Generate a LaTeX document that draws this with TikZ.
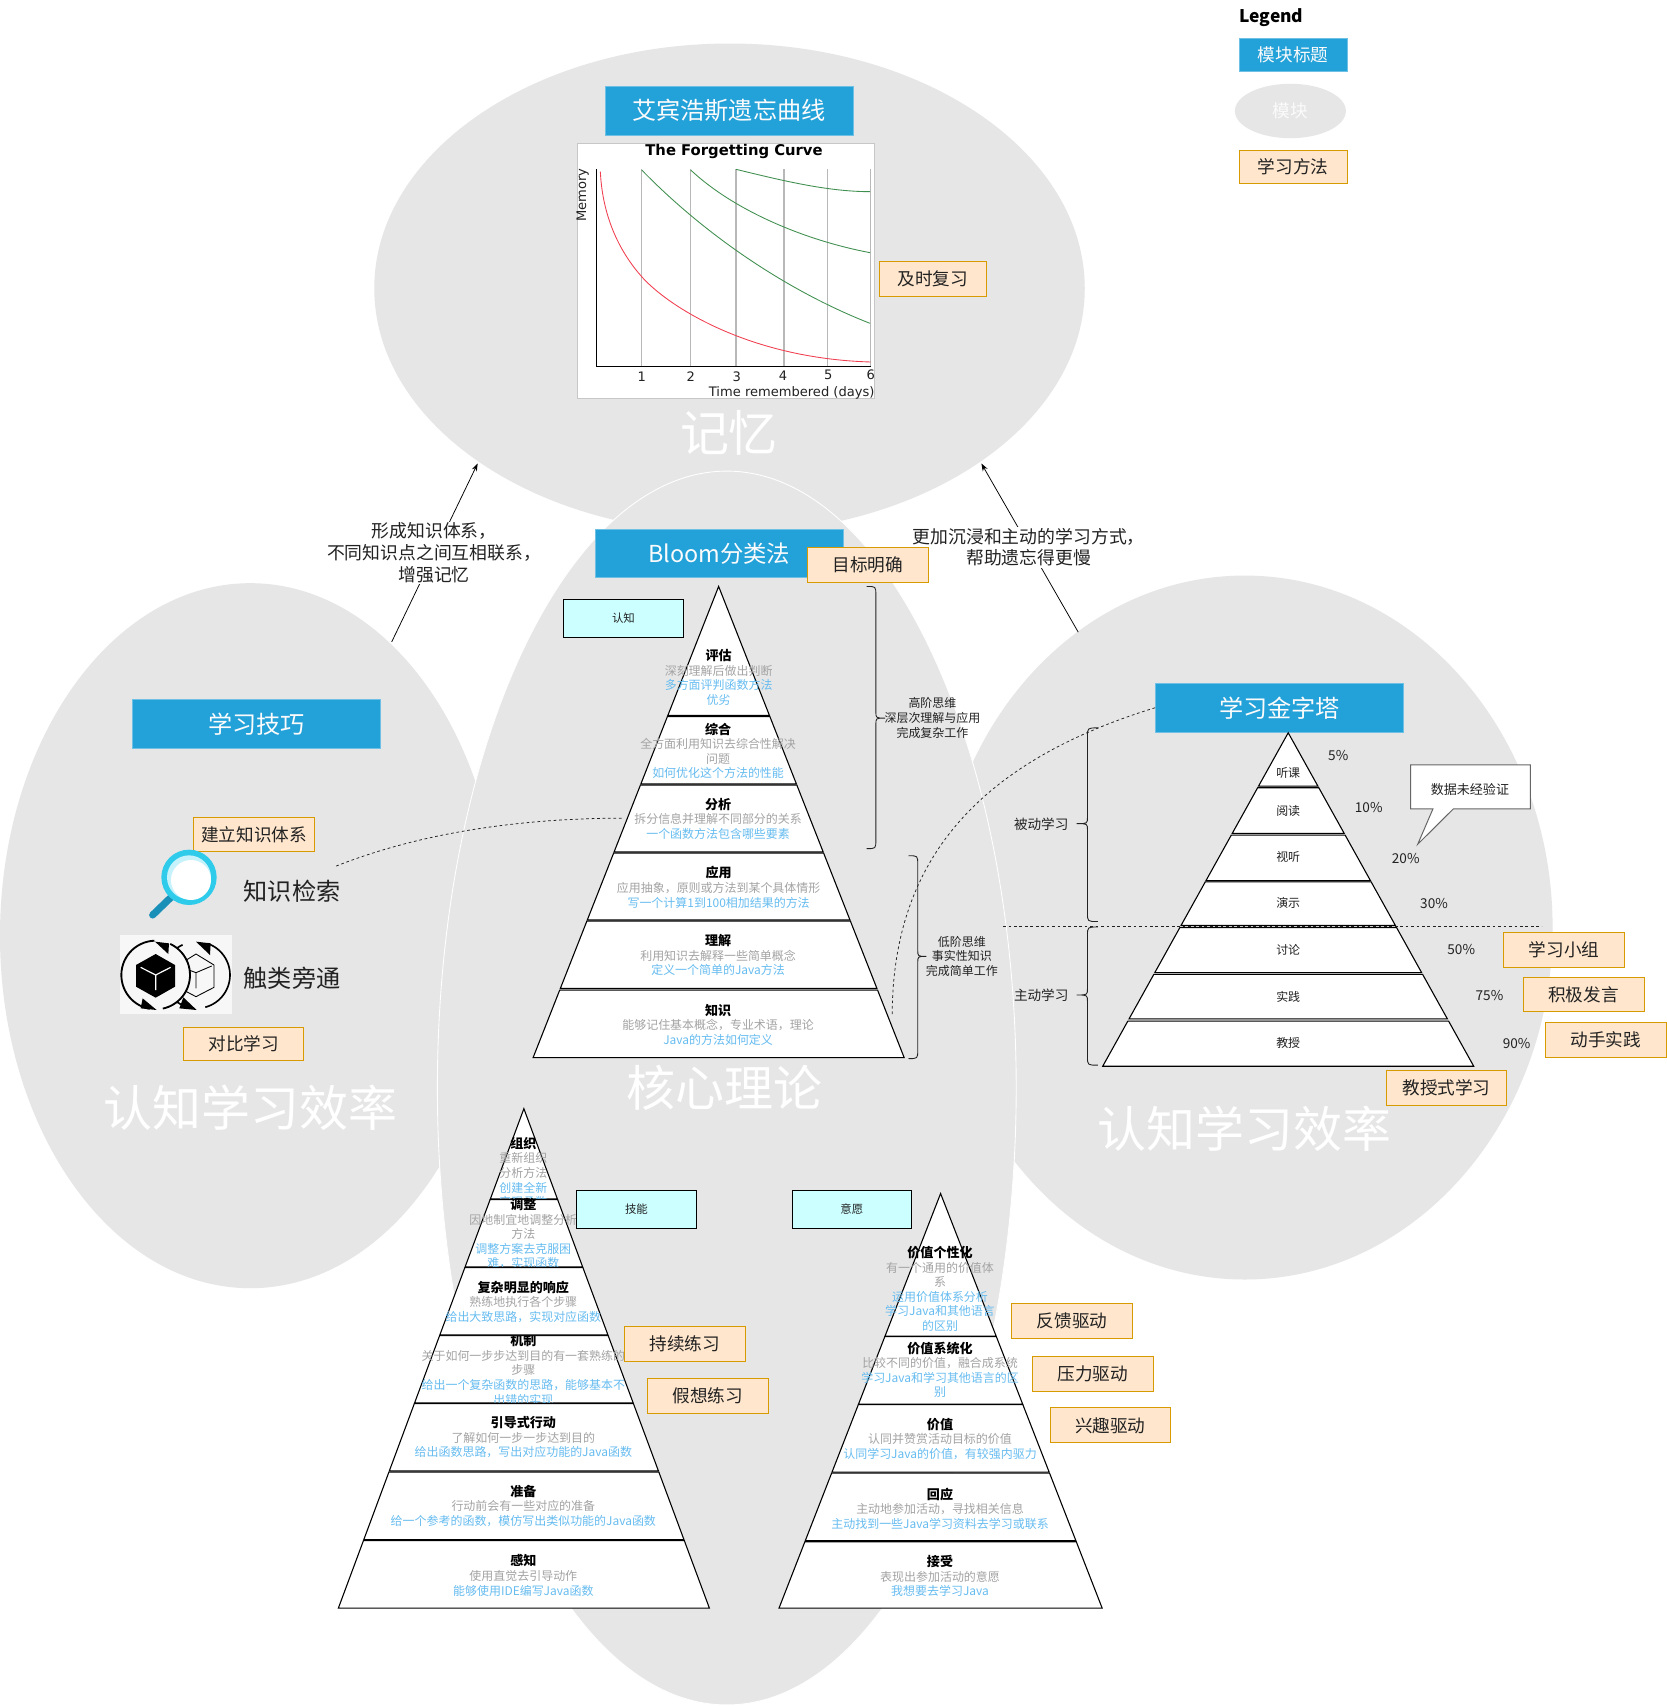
\documentclass[tikz,border=0pt]{standalone}
\usepackage{fontspec}
\setmainfont{Noto Sans CJK SC}
\newfontfamily\chartfont{DejaVu Sans}
\usetikzlibrary{arrows.meta,shapes.geometric}
\definecolor{blobgray}{HTML}{E6E6E6}
\definecolor{titleblue}{HTML}{23A1D9}
\definecolor{titleedge}{HTML}{6EC1E4}
\definecolor{descgray}{HTML}{A3A3A3}
\definecolor{descblue}{HTML}{66BCF0}
\definecolor{methfill}{HTML}{FFE6CC}
\definecolor{methedge}{HTML}{D79B00}
\definecolor{cyanfill}{HTML}{CCFFFF}
\definecolor{softwhite}{HTML}{FBFBFB}
\definecolor{inktext}{HTML}{222222}
\definecolor{chartgreen}{HTML}{3F8F4F}
\definecolor{chartred}{HTML}{F04050}
\definecolor{handlecol}{HTML}{1A8FB8}
\definecolor{ringcol}{HTML}{2ECBEB}
\definecolor{ringin}{HTML}{C5F2FB}
\definecolor{iconbg}{HTML}{F7F7F7}
\newcommand\fsz[1]{\fontsize{#1}{#1}\selectfont}
\tikzset{
  blob/.style={fill=blobgray,draw=none},
  titlebox/.style={fill=titleblue,draw=titleedge,line width=.7pt,text=softwhite,font=\fsz{22.2},inner sep=0pt},
  methbox/.style={fill=methfill,draw=methedge,line width=.8pt,text=inktext,font=\fsz{16.2},inner sep=0pt},
  tagbox/.style={fill=cyanfill,draw=black,line width=.8pt,text=inktext,font=\fsz{10.5},inner sep=0pt},
  bigtext/.style={text=white,font=\fsz{45},inner sep=0pt},
  ptext/.style={align=center,inner sep=0pt,font=\fontsize{11}{13.4}\selectfont},
  plain/.style={align=center,inner sep=0pt,text=inktext},
  layerst/.style={fill=white,draw=black,line width=1pt,line join=miter},
  bracest/.style={draw=inktext,line width=.8pt},
  linkst/.style={draw=black,line width=.7pt,-{Stealth[length=7pt,width=5pt]}},
  dashst/.style={draw=inktext,line width=.7pt,dash pattern=on 2.5pt off 2.5pt},
  chartlab/.style={inner sep=0pt,font=\chartfont\fsz{12},text=inktext},
}
\newcommand\mybox[7]{\node[#1,minimum width={(#5-#3)*1pt},minimum height={(#6-#4)*1pt}] (#2) at ({(#3+#5)/2},{(#4+#6)/2}) {#7};}
\newcommand\setpyr[4]{\def\pax{#1}\def\pay{#2}\def\pby{#3}\def\phw{#4}}
\newcommand\lay[2]{%
  \pgfmathsetmacro\wa{\phw/(\pby-\pay)*(#1-\pay)}%
  \pgfmathsetmacro\wb{\phw/(\pby-\pay)*(#2-\pay)}%
  \draw[layerst] ({\pax-\wa},#1) -- ({\pax+\wa},#1) -- ({\pax+\wb},#2) -- ({\pax-\wb},#2) -- cycle;}
\newcommand\tit[1]{{\fontsize{12}{13.4}\selectfont\bfseries\textcolor{black}{#1}}}
\newcommand\gr[1]{\textcolor{descgray}{#1}}
\newcommand\bl[1]{\textcolor{descblue}{#1}}
\newcommand\vbrace[6]{% spine tip point y1 ym y2
  \draw[bracest] ({#2},{#4}) .. controls ({#1},{#4}) .. ({#1},{#4+8}) -- ({#1},{#5-6}) .. controls ({#1},{#5}) .. ({#3},{#5}) .. controls ({#1},{#5}) .. ({#1},{#5+6}) -- ({#1},{#6-8}) .. controls ({#1},{#6}) .. ({#2},{#6});}
\begin{document}
\begin{tikzpicture}[x=1pt,y=-1pt]
\useasboundingbox (0,0) rectangle (1532,1568);
\fill[white] (0,0) rectangle (1532,1568);
% blobs
\fill[blob] (670.5,265) ellipse [x radius=326.5,y radius=225];
\fill[blob] (230,860) ellipse [x radius=230,y radius=324];
\fill[blob] (1144,852.5) ellipse [x radius=283,y radius=323.5];
\draw[blob,draw=white,line width=.8pt] (668,1000) ellipse [x radius=266,y radius=567];
\node[bigtext] (memorytxt) at (670,398) {记忆};
\node[bigtext] (coretxt) at (666,1000) {核心理论};
\node[bigtext] (lefttxt) at (230,1018) {认知学习效率};
\node[bigtext] (righttxt) at (1144,1037) {认知学习效率};
% coordinates of link ends
\coordinate (la) at (360,590);
\coordinate (lb) at (439,426);
\coordinate (ra) at (991,581);
\coordinate (rb) at (902,426);
\coordinate (da) at (309,796);
\coordinate (db) at (572,752);
\coordinate (dd) at (820,934);
\coordinate (ha) at (922,851);
\coordinate (hb) at (1417,851);
% links with labels
\draw[linkst] (la) -- (lb);
\draw[linkst] (ra) -- (rb);
\node[plain,fill=white,inner sep=1pt,font=\fontsize{16.4}{20}\selectfont] (lablink) at (399,508) {形成知识体系，\\不同知识点之间互相联系，\\增强记忆};
\node[plain,fill=white,inner sep=1pt,font=\fontsize{16.4}{20}\selectfont] (rablink) at (945.5,503) {更加沉浸和主动的学习方式，\\帮助遗忘得更慢};
% Legend
\node[inner sep=0pt,font=\bfseries\fsz{16},text=black] (legend) at (1168.5,16.5) {Legend};
\mybox{titlebox,font=\fsz{16.2}}{lgblue}{1139}{35}{1238}{66}{模块标题}
\node[blob,minimum width=102pt,minimum height=50pt,ellipse,text=softwhite,font=\fsz{16.2},inner sep=0pt] (lgell) at (1186,102) {模块};
\mybox{methbox}{lgmeth}{1139}{138}{1238}{169}{学习方法}
% chart
\begin{scope}[shift={(514.71,64.34)},x=0.30637pt,y=-0.30637pt]
\draw[fill=white,draw=black!22,line width=.7pt] (52,220) rectangle (944,986);
\foreach \vx in {245,392,528,672,803,932} \draw[black!28,line width=1.2pt] (\vx,298) -- (\vx,888);
\draw[black,line width=.9pt] (110,298) -- (110,888) -- (932,888);
\draw[chartred,line width=.8pt] (121,305) .. controls (128,450) and (185,552) .. (245,620) .. controls (320,705) and (560,865) .. (932,876);
\draw[chartgreen,line width=.8pt] (245,300) .. controls (450,510) and (700,670) .. (930,760);
\draw[chartgreen,line width=.8pt] (392,300) .. controls (520,420) and (730,510) .. (930,548);
\draw[chartgreen,line width=.8pt] (528,298) .. controls (660,330) and (800,365) .. (930,365);
\node[inner sep=0pt,font=\chartfont\bfseries\fsz{13.6},text=black] (charttitle) at (522,245) {The Forgetting Curve};
\node[chartlab,rotate=90] (chartmem) at (68,375) {Memory};
\node[chartlab] (chartx) at (695,968) {Time remembered (days)};
\node[chartlab] (t1) at (245,919) {1};
\node[chartlab] (t2) at (392,919) {2};
\node[chartlab] (t3) at (530,919) {3};
\node[chartlab] (t4) at (669,917) {4};
\node[chartlab] (t5) at (805,915) {5};
\node[chartlab] (t6) at (932,913) {6};
\end{scope}
% titles
\mybox{titlebox}{tforget}{556}{79}{784}{124}{\raisebox{-1pt}{艾宾浩斯遗忘曲线}}
\mybox{titlebox}{tbloom}{547}{487}{775}{531}{\raisebox{-.5pt}{\fontsize{21.5}{21.5}\selectfont Bloom分类法}}
\mybox{titlebox}{tskill}{122}{643}{350}{688}{学习技巧}
\mybox{titlebox}{tpyr}{1062}{628}{1290}{673}{学习金字塔}
% Bloom cognition pyramid
\setpyr{660.5}{539}{972}{170.5}
\lay{539}{657.5}
\node[ptext] (c1) at (660.5,622.5) {\tit{评估}\\\gr{深刻理解后做出判断}\\\bl{多方面评判函数方法}\\\bl{优劣}};
\lay{658.5}{720.5}
\node[ptext] (c2) at (660,690) {\tit{综合}\\\gr{全方面利用知识去综合性解决}\\\gr{问题}\\\bl{如何优化这个方法的性能}};
\lay{721.5}{783}
\node[ptext] (c3) at (660,752.5) {\tit{分析}\\\gr{拆分信息并理解不同部分的关系}\\\bl{一个函数方法包含哪些要素}};
\lay{784}{845.5}
\node[ptext] (c4) at (660.5,815.5) {\tit{应用}\\\gr{应用抽象，原则或方法到某个具体情形}\\\bl{写一个计算1到100相加结果的方法}};
\lay{846.5}{908.5}
\node[ptext] (c5) at (660,878) {\tit{理解}\\\gr{利用知识去解释一些简单概念}\\\bl{定义一个简单的Java方法}};
\lay{910}{972}
\node[ptext] (c6) at (660,942) {\tit{知识}\\\gr{能够记住基本概念，专业术语，理论}\\\bl{Java的方法如何定义}};
% skill pyramid
\setpyr{481.5}{1019}{1478}{170.5}
\lay{1019}{1102}
\node[ptext] (s1) at (481,1077.5) {\tit{组织}\\\gr{重新组织}\\\gr{分析方法}\\\bl{创建全新}\\\bl{实现函数}};
\lay{1102.5}{1164.5}
\node[ptext] (s2) at (481,1134) {\tit{调整}\\\gr{因地制宜地调整分析}\\\gr{方法}\\\bl{调整方案去克服困}\\\bl{难，实现函数}};
\lay{1227.5}{1289.5}
\node[ptext] (s4) at (481,1259) {\tit{机制}\\\gr{关于如何一步步达到目的有一套熟练的}\\\gr{步骤}\\\bl{给出一个复杂函数的思路，能够基本不}\\\bl{出错的实现}};
\lay{1165}{1227}
\node[ptext] (s3) at (481,1196.5) {\tit{复杂明显的响应}\\\gr{熟练地执行各个步骤}\\\bl{给出大致思路，实现对应函数}};
\lay{1290}{1352}
\node[ptext] (s5) at (481,1321) {\tit{引导式行动}\\\gr{了解如何一步一步达到目的}\\\bl{给出函数思路，写出对应功能的Java函数}};
\lay{1353}{1415}
\node[ptext] (s6) at (481,1384) {\tit{准备}\\\gr{行动前会有一些对应的准备}\\\bl{给一个参考的函数，模仿写出类似功能的Java函数}};
\lay{1416}{1478}
\node[ptext] (s7) at (481,1448) {\tit{感知}\\\gr{使用直觉去引导动作}\\\bl{能够使用IDE编写Java函数}};
% will pyramid
\setpyr{864.5}{1097}{1478}{148.5}
\lay{1097}{1228}
\node[ptext] (w1) at (864,1184.5) {\tit{价值个性化}\\\gr{有一个通用的价值体}\\\gr{系}\\\bl{运用价值体系分析}\\\bl{学习Java和其他语言}\\\bl{的区别}};
\lay{1228.5}{1290.5}
\node[ptext] (w2) at (864,1259) {\tit{价值系统化}\\\gr{比较不同的价值，融合成系统}\\\bl{学习Java和学习其他语言的区}\\\bl{别}};
\lay{1291}{1353}
\node[ptext] (w3) at (864,1322.5) {\tit{价值}\\\gr{认同并赞赏活动目标的价值}\\\bl{认同学习Java的价值，有较强内驱力}};
\lay{1354}{1416}
\node[ptext] (w4) at (864,1386.5) {\tit{回应}\\\gr{主动地参加活动，寻找相关信息}\\\bl{主动找到一些Java学习资料去学习或联系}};
\lay{1417}{1478}
\node[ptext] (w5) at (864,1448.5) {\tit{接受}\\\gr{表现出参加活动的意愿}\\\bl{我想要去学习Java}};
% study pyramid
\setpyr{1184}{673.5}{980}{170.5}
\lay{673.5}{722.5}
\lay{724}{766}
\lay{767.5}{809.5}
\lay{810.5}{850.5}
\lay{852.5}{894}
\lay{895.5}{936.5}
\lay{938.5}{980}
\foreach \nn/\ty/\tx in {p1/710/听课,p2/745/阅读,p3/788/视听,p4/830/演示,p5/873/讨论,p6/916/实践,p7/959/教授}
  \node[plain,font=\fsz{11}] (\nn) at (1184,\ty) {\tx};
\foreach \nn/\qx/\qy/\ty in {q1/1230/694/5\%,q2/1258/742/10\%,q3/1292/789/20\%,q4/1318/830/30\%,q5/1343/873/50\%,q6/1369/915/75\%,q7/1394/959/90\%}
  \node[plain,font=\fsz{12.5}] (\nn) at (\qx,\qy) {\ty};
\draw[dashst] (ha) -- (hb);
% callout
\draw[fill=white,draw=black!60,line width=.9pt] (1296.5,703) -- (1406.5,703) -- (1406.5,743.5) -- (1335.7,743.5) -- (1303,776) -- (1317,743.5) -- (1296.5,743.5) -- cycle;
\node[plain,font=\fsz{12}] (callout) at (1351,726) {数据未经验证};
% braces
\vbrace{999.5}{1009}{989.5}{669}{757}{847}
\vbrace{999.5}{1009}{989.5}{852}{914.5}{979}
\node[plain,font=\fsz{12.5}] (pass) at (957,758) {被动学习};
\node[plain,font=\fsz{12.5}] (act) at (957,915) {主动学习};
\vbrace{805}{796.5}{813.5}{539}{660}{780}
\vbrace{843.5}{835}{851.5}{786.5}{879}{973}
\node[plain,font=\fontsize{11}{13.6}\selectfont] (high) at (857,660) {高阶思维\\深层次理解与应用\\完成复杂工作};
\node[plain,font=\fontsize{11}{13.6}\selectfont] (low) at (884,879) {低阶思维\\事实性知识\\完成简单工作};
% dashed curves
\draw[dashst] (da) .. controls (400,760) and (500,752) .. (db);
\draw[dashst] (tpyr.west) .. controls (900,700) and (820,790) .. (dd);
% tag boxes
\mybox{tagbox}{tagcog}{518}{551}{628}{586}{认知}
\mybox{tagbox}{tagskill}{530}{1094}{640}{1129}{技能}
\mybox{tagbox}{tagwill}{728}{1094}{838}{1129}{意愿}
% method boxes
\mybox{methbox}{m1}{808}{240}{907}{272}{及时复习}
\mybox{methbox}{m2}{742}{503}{853}{535}{目标明确}
\mybox{methbox}{m3}{178}{751}{289}{783}{建立知识体系}
\mybox{methbox}{m4}{169}{944}{279}{975}{对比学习}
\mybox{methbox}{m5}{1382}{857}{1493}{889}{学习小组}
\mybox{methbox}{m6}{1400}{898}{1511}{930}{积极发言}
\mybox{methbox}{m7}{1420}{940}{1532}{972}{动手实践}
\mybox{methbox}{m8}{1274}{984}{1385}{1016}{教授式学习}
\mybox{methbox}{m9}{574}{1219}{685}{1251}{持续练习}
\mybox{methbox}{m10}{595}{1267}{706}{1299}{假想练习}
\mybox{methbox}{m11}{930}{1198}{1041}{1230}{反馈驱动}
\mybox{methbox}{m12}{949}{1247}{1060}{1279}{压力驱动}
\mybox{methbox}{m13}{965}{1294}{1076}{1326}{兴趣驱动}
% left icons and labels
\node[plain,font=\fsz{22.2}] (kretrieve) at (268.5,819) {知识检索};
\node[plain,font=\fsz{22.2}] (ktransfer) at (268.5,899.5) {触类旁通};
\begin{scope}[shift={(91.91,625)},x=0.30637pt,y=-0.30637pt]
% magnifier
\draw[handlecol,line width=6.5pt,line cap=round] (158,705) -- (215,650);
\fill[ringcol] (267,592) circle (83);
\fill[ringin] (267,592) circle (66);
\fill[white] (273,600) circle (60);
% cube icon
\fill[iconbg] (60,765) rectangle (396,1001);
\draw[black,line width=1.5pt] plot[domain=-70:75,samples=30] ({290+100*cos(\x)},{885+100*sin(\x)});
\draw[black,line width=1.5pt] plot[domain=105:245,samples=30] ({290+100*cos(\x)},{885+100*sin(\x)});
\draw[black,line width=.8pt] (288,822) -- (342,855) -- (342,922) -- (288,950) -- (235,922) -- (235,855) -- cycle;
\draw[black,line width=.8pt] (288,878) -- (240,860) (288,878) -- (335,858) (288,878) -- (288,925);
\fill[black] (288,785) -- (332,790) -- (330,825) -- cycle;
\fill[black] (250,952) -- (290,990) -- (238,985) -- cycle;
\fill[iconbg] (167,885) circle (103);
\draw[black,line width=1.7pt] plot[domain=-65:78,samples=30] ({167+103*cos(\x)},{885+103*sin(\x)});
\draw[black,line width=1.7pt] plot[domain=100:268,samples=30] ({167+103*cos(\x)},{885+103*sin(\x)});
\fill[black] (165,785) -- (207,790) -- (205,822) -- cycle;
\fill[black] (128,955) -- (170,990) -- (122,985) -- cycle;
\fill[black] (167,822) -- (225,855) -- (225,920) -- (167,953) -- (108,920) -- (108,855) -- cycle;
\draw[white,line width=1.1pt] (167,885) -- (122,862) (167,885) -- (212,862) (167,885) -- (167,930);
\end{scope}
\end{tikzpicture}
\end{document}
